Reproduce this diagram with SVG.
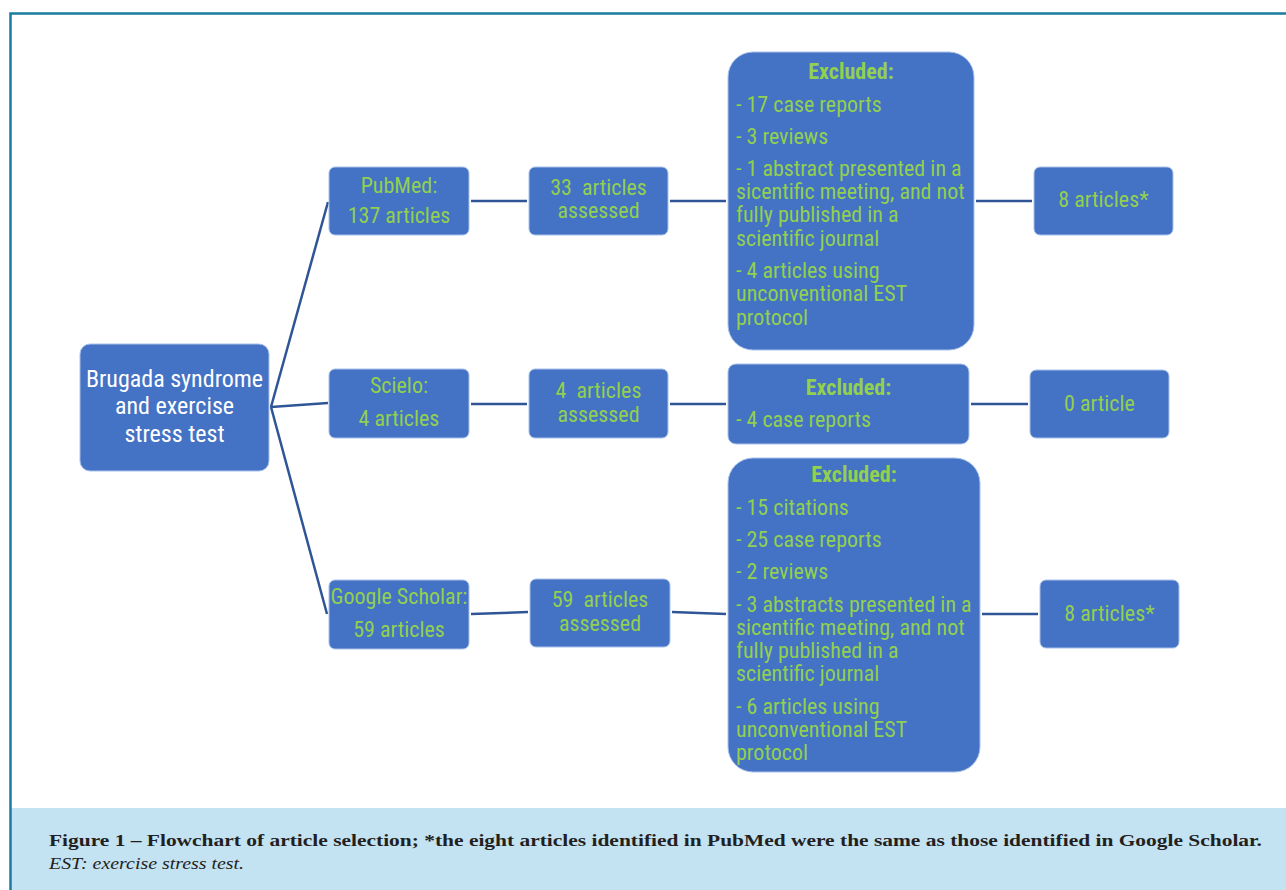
<svg xmlns="http://www.w3.org/2000/svg" width="1286" height="890" viewBox="0 0 1286 890">
<style>
.node{fill:#4472c4;stroke:#a9c1ea;stroke-width:1}
.t{font-family:"Liberation Sans Narrow","Roboto Condensed","Arial Narrow","Liberation Sans",sans-serif;font-size:22px;fill:#92d050}
.c{text-anchor:middle}
.b{font-weight:bold}
.w{fill:#ffffff;font-size:24px}
.conn{stroke:#2f5597;stroke-width:2.5;fill:none}
.cap{font-family:"Liberation Serif",serif;font-size:17.5px;fill:#231f20}
</style>
<rect x="0" y="0" width="1286" height="890" fill="#ffffff"/>
<rect x="11" y="808" width="1275" height="82" fill="#c3e2f2"/>
<path d="M10.5 890 V13.5 H1286" fill="none" stroke="#1a7ca0" stroke-width="2.5"/>
<g id="connectors">
<line class="conn" x1="271" y1="407" x2="328" y2="202"/>
<line class="conn" x1="271" y1="407" x2="328" y2="403"/>
<line class="conn" x1="271" y1="407" x2="327" y2="614"/>
<line class="conn" x1="471" y1="201" x2="527" y2="201"/>
<line class="conn" x1="670" y1="201" x2="726" y2="201"/>
<line class="conn" x1="976" y1="201" x2="1032" y2="201"/>
<line class="conn" x1="471" y1="404" x2="527" y2="404"/>
<line class="conn" x1="670" y1="404" x2="726" y2="404"/>
<line class="conn" x1="971" y1="404" x2="1028" y2="404"/>
<line class="conn" x1="471" y1="614" x2="528" y2="612"/>
<line class="conn" x1="672" y1="612" x2="726" y2="614"/>
<line class="conn" x1="982" y1="614" x2="1038" y2="614"/>
</g>
<g id="root">
<rect class="node" x="80" y="344" width="189" height="127" rx="10"/>
<text class="t w c" x="174.5" y="387">Brugada syndrome</text>
<text class="t w c" x="174.5" y="414">and exercise</text>
<text class="t w c" x="174.5" y="442">stress test</text>
</g>
<g id="pubmed">
<rect class="node" x="329" y="167" width="140" height="68" rx="6"/>
<text class="t c" x="399" y="193">PubMed:</text>
<text class="t c" x="399" y="223">137 articles</text>
</g>
<g id="pubmed-assessed">
<rect class="node" x="529" y="167" width="139" height="68" rx="6"/>
<text class="t c" x="598.5" y="195" xml:space="preserve">33  articles</text>
<text class="t c" x="598.5" y="218">assessed</text>
</g>
<g id="pubmed-excluded">
<rect class="node" x="728" y="52" width="246" height="298" rx="25"/>
<text class="t c b" x="851" y="79">Excluded:</text>
<text class="t" x="736" y="112">- 17 case reports</text>
<text class="t" x="736" y="144">- 3 reviews</text>
<text class="t" x="736" y="176">- 1 abstract presented in a</text>
<text class="t" x="736" y="199">sicentific meeting, and not</text>
<text class="t" x="736" y="222">fully published in a</text>
<text class="t" x="736" y="246">scientific journal</text>
<text class="t" x="736" y="278">- 4 articles using</text>
<text class="t" x="736" y="301">unconventional EST</text>
<text class="t" x="736" y="325">protocol</text>
</g>
<g id="pubmed-result">
<rect class="node" x="1034" y="167" width="139" height="68" rx="6"/>
<text class="t c" x="1103.5" y="207">8 articles*</text>
</g>
<g id="scielo">
<rect class="node" x="329" y="369" width="140" height="69" rx="6"/>
<text class="t c" x="399" y="393">Scielo:</text>
<text class="t c" x="399" y="426">4 articles</text>
</g>
<g id="scielo-assessed">
<rect class="node" x="529" y="369" width="139" height="69" rx="6"/>
<text class="t c" x="598.5" y="398" xml:space="preserve">4  articles</text>
<text class="t c" x="598.5" y="422">assessed</text>
</g>
<g id="scielo-excluded">
<rect class="node" x="728" y="364" width="241" height="80" rx="8"/>
<text class="t c b" x="848.5" y="395">Excluded:</text>
<text class="t" x="736" y="427">- 4 case reports</text>
</g>
<g id="scielo-result">
<rect class="node" x="1030" y="370" width="139" height="68" rx="6"/>
<text class="t c" x="1099.5" y="411">0 article</text>
</g>
<g id="scholar">
<rect class="node" x="329" y="580" width="140" height="69" rx="6"/>
<text class="t c" x="399" y="604">Google Scholar:</text>
<text class="t c" x="399" y="637">59 articles</text>
</g>
<g id="scholar-assessed">
<rect class="node" x="530" y="579" width="140" height="68" rx="6"/>
<text class="t c" x="600" y="607" xml:space="preserve">59  articles</text>
<text class="t c" x="600" y="631">assessed</text>
</g>
<g id="scholar-excluded">
<rect class="node" x="728" y="458" width="252" height="314" rx="25"/>
<text class="t c b" x="854" y="482">Excluded:</text>
<text class="t" x="736" y="515">- 15 citations</text>
<text class="t" x="736" y="547">- 25 case reports</text>
<text class="t" x="736" y="579">- 2 reviews</text>
<text class="t" x="736" y="612">- 3 abstracts presented in a</text>
<text class="t" x="736" y="635">sicentific meeting, and not</text>
<text class="t" x="736" y="658">fully published in a</text>
<text class="t" x="736" y="681">scientific journal</text>
<text class="t" x="736" y="714">- 6 articles using</text>
<text class="t" x="736" y="737">unconventional EST</text>
<text class="t" x="736" y="760">protocol</text>
</g>
<g id="scholar-result">
<rect class="node" x="1040" y="580" width="139" height="68" rx="6"/>
<text class="t c" x="1109.5" y="621">8 articles*</text>
</g>
<g id="caption">
<text class="cap" x="49" y="846" font-weight="bold" textLength="1213" lengthAdjust="spacingAndGlyphs">Figure 1 – Flowchart of article selection; *the eight articles identified in PubMed were the same as those identified in Google Scholar.</text>
<text class="cap" x="49" y="869" font-style="italic" textLength="195" lengthAdjust="spacingAndGlyphs">EST: exercise stress test.</text>
</g>
</svg>
